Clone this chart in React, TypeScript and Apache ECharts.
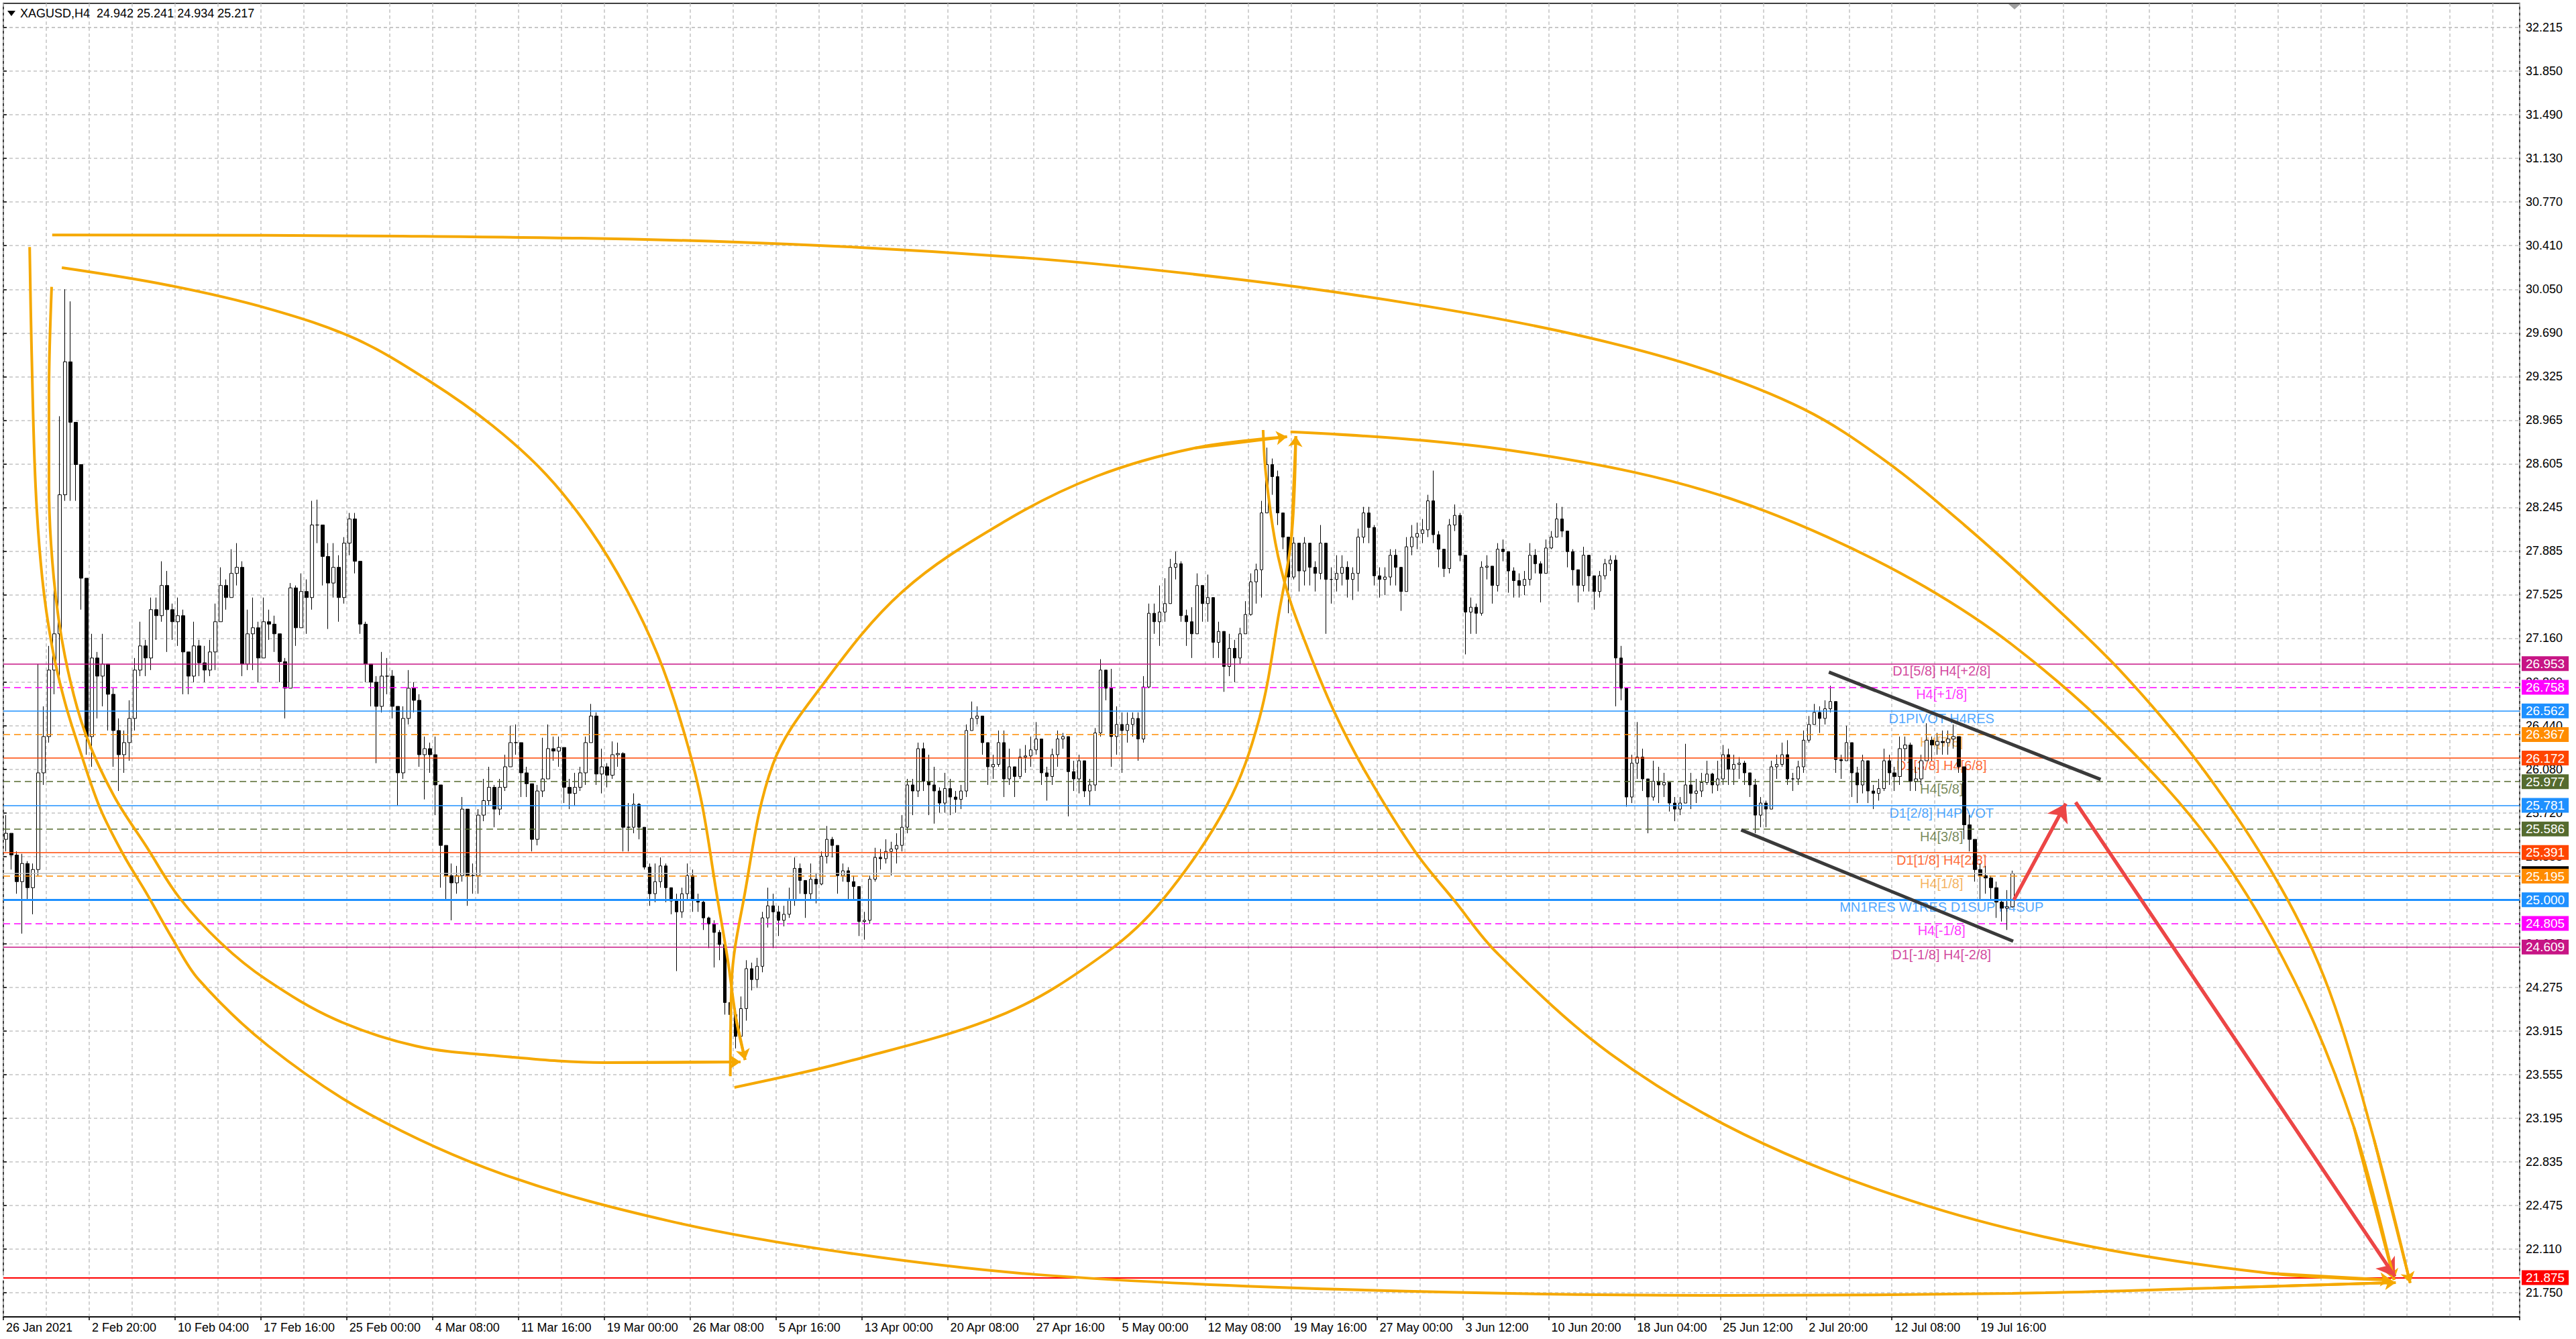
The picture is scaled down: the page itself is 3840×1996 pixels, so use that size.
import React, { useEffect, useRef } from "react";
import * as echarts from "echarts";

// XAGUSD H4, every candle here covers two H4 bars
const timeLabels = [
  "26 Jan 2021", "2 Feb 20:00", "10 Feb 04:00", "17 Feb 16:00", "25 Feb 00:00", "4 Mar 08:00",
  "11 Mar 16:00", "19 Mar 00:00", "26 Mar 08:00", "5 Apr 16:00", "13 Apr 00:00", "20 Apr 08:00",
  "27 Apr 16:00", "5 May 00:00", "12 May 08:00", "19 May 16:00", "27 May 00:00", "3 Jun 12:00",
  "10 Jun 20:00", "18 Jun 04:00", "25 Jun 12:00", "2 Jul 20:00", "12 Jul 08:00", "19 Jul 16:00",
];

const priceTicks = [
  "21.750", "22.110", "22.475", "22.835", "23.195", "23.555", "23.915", "24.275", "24.635", "24.995",
  "25.355", "25.720", "26.080", "26.440", "26.800", "27.160", "27.525", "27.885", "28.245", "28.605",
  "28.965", "29.325", "29.690", "30.050", "30.410", "30.770", "31.130", "31.490", "31.850", "32.215",
];

const firstOpen = 25.5;

const closes = [
  25.55, 25.37, 25.15, 25.30, 25.10, 25.25, 26.05, 26.35, 26.90, 27.20,
  28.35, 29.45, 28.95, 28.60, 27.66, 26.35, 27.00, 26.85, 26.95, 26.70,
  26.40, 26.20, 26.30, 26.50, 26.90, 27.10, 27.00, 27.40, 27.35, 27.60,
  27.40, 27.30, 27.35, 27.05, 26.85, 27.10, 26.96, 26.90, 27.05, 27.30,
  27.60, 27.50, 27.70, 27.75, 26.95, 27.20, 27.25, 27.00, 27.30, 27.28,
  27.20, 26.97, 26.75, 27.58, 27.25, 27.55, 27.50, 28.10, 28.10, 27.84,
  27.62, 27.75, 27.50, 27.95, 28.15, 27.80, 27.28, 26.95, 26.80, 26.60,
  26.85, 26.85, 26.60, 26.05, 26.50, 26.75, 26.65, 26.20, 26.25, 26.20,
  25.95, 25.45, 25.20, 25.14, 25.20, 25.75, 25.20, 25.20, 25.70, 25.82,
  25.93, 25.75, 25.93, 26.10, 26.30, 26.30, 26.05, 25.96, 25.50, 25.90,
  26.00, 26.25, 26.23, 26.26, 25.93, 25.88, 25.93, 26.05, 26.30, 26.52,
  26.04, 26.10, 26.03, 26.20, 26.21, 25.60, 25.60, 25.79, 25.60, 25.27,
  25.05, 25.15, 25.28, 25.10, 24.99, 24.90, 25.05, 25.20, 25.00, 24.98,
  24.85, 24.80, 24.73, 24.63, 24.15, 24.05, 23.87, 24.10, 24.43, 24.34,
  24.45, 24.85, 24.95, 24.90, 24.83, 24.88, 25.00, 25.26, 25.16, 25.05,
  25.17, 25.13, 25.36, 25.50, 25.45, 25.20, 25.24, 25.15, 25.11, 24.82,
  24.83, 25.17, 25.35, 25.34, 25.40, 25.42, 25.45, 25.60, 25.95, 25.90,
  26.25, 25.98, 25.95, 25.90, 25.80, 25.92, 25.85, 25.83, 25.90, 26.40,
  26.50, 26.52, 26.30, 26.10, 26.12, 26.30, 26.00, 26.10, 26.02, 26.18,
  26.19, 26.24, 26.33, 26.05, 26.02, 26.20, 26.33, 26.35, 26.06, 26.00,
  26.15, 25.90, 25.95, 26.38, 26.90, 26.75, 26.35, 26.45, 26.40, 26.45,
  26.50, 26.33, 26.76, 27.37, 27.30, 27.38, 27.45, 27.75, 27.78, 27.35,
  27.30, 27.20, 27.60, 27.45, 27.50, 27.13, 27.22, 26.93, 27.08, 27.00,
  27.20, 27.36, 27.63, 27.73, 28.20, 28.60, 28.50, 28.20, 28.00, 27.67,
  27.95, 27.72, 27.95, 27.75, 27.70, 27.95, 27.65, 27.65, 27.70, 27.75,
  27.65, 27.70, 28.00, 28.20, 28.08, 27.68, 27.65, 27.67, 27.85, 27.75,
  27.55, 27.92, 28.00, 28.03, 28.06, 28.30, 28.02, 27.90, 27.74, 28.10,
  28.18, 27.85, 27.38, 27.42, 27.37, 27.75, 27.76, 27.60, 27.90, 27.88,
  27.72, 27.64, 27.60, 27.65, 27.85, 27.78, 27.70, 27.91, 28.00, 28.15,
  28.05, 27.88, 27.73, 27.60, 27.85, 27.68, 27.55, 27.68, 27.78, 27.81,
  27.00, 26.75, 25.85, 26.13, 26.18, 26.00, 25.85, 25.98, 25.95, 25.97,
  25.80, 25.75, 25.80, 25.95, 25.88, 25.90, 25.97, 26.04, 25.95, 26.00,
  26.20, 26.08, 26.12, 26.13, 26.05, 25.95, 25.70, 25.80, 25.75, 26.10,
  26.12, 26.20, 26.00, 26.00, 26.10, 26.32, 26.45, 26.55, 26.50, 26.58,
  26.64, 26.16, 26.15, 26.30, 26.05, 25.95, 26.15, 25.90, 25.88, 25.92,
  26.15, 26.05, 26.02, 26.25, 26.28, 25.98, 26.00, 26.15, 26.32, 26.28,
  26.31, 26.30, 26.33, 26.35, 26.10, 25.62, 25.50, 25.25, 25.20, 25.18,
  25.10, 24.98, 24.93, 24.942, 25.217,
];

const highs = [
  25.70, 25.55, 25.40, 25.38, 25.32, 25.30, 26.95, 26.60, 27.10, 27.65,
  29.00, 30.05, 29.95, 28.95, 28.60, 27.60, 27.20, 27.05, 27.20, 26.95,
  26.75, 26.50, 26.40, 26.65, 27.00, 27.30, 27.15, 27.50, 27.50, 27.80,
  27.72, 27.45, 27.50, 27.40, 27.05, 27.30, 27.15, 27.10, 27.15, 27.45,
  27.75, 27.65, 27.90, 27.95, 27.80, 27.40, 27.50, 27.30, 27.50, 27.40,
  27.35, 27.20, 27.00, 27.62, 27.60, 27.70, 27.65, 28.30, 28.31, 28.10,
  27.95, 27.95, 27.85, 28.00, 28.20, 28.20, 27.80, 27.30, 26.95, 26.85,
  27.05, 27.00, 26.90, 26.60, 26.60, 26.90, 26.80, 26.70, 26.35, 26.30,
  26.35, 25.95, 25.45, 25.30, 25.28, 25.85, 25.75, 25.30, 25.75, 26.00,
  26.10, 25.95, 26.00, 26.20, 26.44, 26.45, 26.30, 26.10, 25.95, 25.95,
  26.34, 26.45, 26.35, 26.35, 26.26, 26.00, 26.05, 26.10, 26.35, 26.62,
  26.55, 26.25, 26.13, 26.31, 26.30, 26.22, 25.80, 25.88, 25.80, 25.60,
  25.30, 25.30, 25.35, 25.30, 25.10, 25.05, 25.10, 25.30, 25.25, 25.05,
  25.00, 24.86, 24.83, 24.75, 24.63, 24.20, 24.10, 24.20, 24.50, 24.48,
  24.52, 24.90, 25.10, 25.05, 24.95, 24.95, 25.10, 25.35, 25.30, 25.16,
  25.30, 25.22, 25.40, 25.61, 25.52, 25.45, 25.30, 25.27, 25.20, 25.11,
  24.90, 25.20, 25.43, 25.42, 25.50, 25.48, 25.55, 25.70, 26.00, 26.00,
  26.30, 26.30, 26.20, 26.10, 25.93, 26.05, 26.00, 25.90, 25.95, 26.45,
  26.64, 26.60, 26.52, 26.30, 26.20, 26.40, 26.40, 26.25, 26.10, 26.25,
  26.28, 26.35, 26.47, 26.33, 26.10, 26.25, 26.40, 26.38, 26.35, 26.15,
  26.20, 26.15, 26.00, 26.42, 26.99, 26.90, 26.91, 26.60, 26.55, 26.55,
  26.55, 26.55, 26.85, 27.45, 27.45, 27.60, 27.66, 27.82, 27.88, 27.80,
  27.40, 27.42, 27.70, 27.60, 27.69, 27.50, 27.30, 27.22, 27.20, 27.15,
  27.25, 27.47, 27.70, 27.78, 28.30, 28.74, 28.65, 28.55, 28.20, 28.00,
  28.00, 27.95, 28.00, 27.95, 27.80, 28.10, 27.95, 27.75, 27.85, 27.85,
  27.80, 27.75, 28.07, 28.25, 28.25, 28.10, 27.75, 27.75, 27.90, 27.90,
  27.75, 28.00, 28.10, 28.12, 28.15, 28.35, 28.55, 28.05, 27.90, 28.15,
  28.27, 28.20, 27.85, 27.50, 27.45, 27.80, 27.85, 27.76, 27.95, 27.98,
  27.88, 27.75, 27.70, 27.72, 27.95, 27.90, 27.80, 27.98, 28.05, 28.28,
  28.25, 28.05, 27.90, 27.73, 27.92, 27.85, 27.68, 27.72, 27.82, 27.85,
  27.85, 27.10, 26.75, 26.20, 26.47, 26.25, 26.00, 26.15, 26.10, 26.05,
  25.97, 25.85, 25.85, 26.29, 26.05, 26.00, 26.05, 26.15, 26.05, 26.15,
  26.28, 26.25, 26.20, 26.18, 26.15, 26.05, 26.00, 25.85, 25.82, 26.15,
  26.20, 26.30, 26.32, 26.05, 26.15, 26.40, 26.52, 26.62, 26.60, 26.65,
  26.77, 26.64, 26.20, 26.44, 26.30, 26.10, 26.20, 26.15, 25.95, 26.00,
  26.25, 26.20, 26.10, 26.35, 26.35, 26.30, 26.10, 26.20, 26.46, 26.35,
  26.38, 26.40, 26.40, 26.45, 26.35, 26.10, 25.70, 25.50, 25.30, 25.28,
  25.20, 25.15, 25.00, 25.08, 25.241,
];

const lows = [
  25.40, 25.25, 25.05, 24.72, 25.00, 24.88, 25.20, 25.95, 26.30, 26.70,
  26.80, 28.30, 28.30, 28.30, 27.40, 26.20, 26.10, 26.50, 26.60, 26.40,
  26.10, 25.90, 26.05, 26.15, 26.40, 26.85, 26.85, 26.90, 27.15, 27.30,
  27.05, 27.15, 27.10, 26.70, 26.70, 26.80, 26.85, 26.80, 26.85, 26.90,
  27.30, 27.40, 27.50, 27.60, 26.85, 26.90, 26.90, 26.80, 27.00, 27.15,
  27.05, 26.80, 26.50, 26.75, 27.10, 27.25, 27.20, 27.40, 27.95, 27.60,
  27.24, 27.50, 27.30, 27.45, 27.85, 27.70, 27.20, 26.80, 26.60, 26.13,
  26.55, 26.70, 26.50, 25.78, 26.00, 26.45, 26.55, 26.10, 25.83, 26.05,
  25.70, 25.10, 25.00, 24.83, 25.05, 25.15, 24.95, 25.05, 25.05, 25.65,
  25.78, 25.60, 25.70, 25.90, 26.15, 26.20, 25.85, 25.85, 25.40, 25.45,
  25.85, 26.05, 26.15, 26.10, 25.80, 25.75, 25.78, 25.90, 25.95, 26.30,
  25.95, 25.88, 25.93, 26.00, 26.10, 25.40, 25.40, 25.55, 25.50, 25.25,
  24.95, 24.98, 25.10, 24.98, 24.88, 24.41, 24.85, 25.00, 24.90, 24.90,
  24.75, 24.60, 24.44, 24.50, 24.05, 23.95, 23.77, 23.85, 24.00, 24.25,
  24.27, 24.40, 24.77, 24.60, 24.70, 24.78, 24.85, 24.95, 25.05, 24.85,
  25.00, 24.97, 25.12, 25.30, 25.35, 25.05, 25.15, 25.00, 25.00, 24.70,
  24.67, 24.80, 25.15, 25.25, 25.30, 25.20, 25.30, 25.40, 25.55, 25.70,
  25.85, 25.90, 25.70, 25.63, 25.72, 25.72, 25.70, 25.72, 25.75, 25.85,
  26.40, 26.45, 26.20, 25.95, 26.00, 26.10, 25.85, 25.95, 25.85, 26.00,
  26.05, 26.10, 26.20, 25.95, 25.82, 25.95, 26.10, 26.25, 25.69, 25.90,
  25.88, 25.85, 25.78, 25.90, 26.35, 26.65, 26.10, 26.20, 26.05, 26.30,
  26.35, 26.15, 26.30, 26.75, 27.20, 27.10, 27.30, 27.45, 27.65, 27.30,
  27.10, 27.00, 27.20, 27.30, 27.30, 27.00, 27.00, 26.72, 26.85, 26.80,
  26.95, 27.20, 27.35, 27.45, 27.50, 28.20, 28.35, 28.10, 27.90, 27.37,
  27.65, 27.55, 27.60, 27.60, 27.55, 27.65, 27.20, 27.45, 27.55, 27.60,
  27.50, 27.48, 27.55, 27.95, 27.95, 27.60, 27.50, 27.52, 27.60, 27.60,
  27.39, 27.55, 27.85, 27.90, 27.95, 28.00, 27.95, 27.75, 27.67, 27.70,
  28.05, 27.80, 27.03, 27.20, 27.20, 27.35, 27.65, 27.45, 27.55, 27.80,
  27.54, 27.50, 27.50, 27.52, 27.60, 27.70, 27.46, 27.70, 27.90, 28.00,
  28.00, 27.75, 27.60, 27.46, 27.55, 27.55, 27.40, 27.50, 27.65, 27.72,
  26.60, 26.65, 25.77, 25.80, 26.00, 25.90, 25.55, 25.82, 25.80, 25.85,
  25.73, 25.65, 25.70, 25.80, 25.75, 25.80, 25.85, 25.95, 25.88, 25.90,
  25.95, 25.95, 25.95, 26.00, 25.95, 25.85, 25.55, 25.60, 25.60, 25.75,
  26.00, 26.10, 25.95, 25.90, 25.95, 26.05, 26.30, 26.45, 26.38, 26.45,
  26.55, 26.05, 26.00, 26.15, 25.85, 25.80, 25.88, 25.80, 25.75, 25.82,
  25.90, 25.95, 25.90, 25.95, 26.15, 25.90, 25.90, 25.95, 26.15, 26.15,
  26.20, 26.20, 26.20, 26.25, 26.05, 25.50, 25.40, 25.15, 25.00, 25.05,
  25.00, 24.85, 24.82, 24.75, 24.934,
];

// Murrey / pivot levels
const levelPrices = [26.953, 26.758, 26.562, 26.367, 26.172, 25.977, 25.781, 25.586, 25.391, 25.195, 25.0, 24.805, 24.609];
const levelNames = [
  "D1[5/8] H4[+2/8]", "H4[+1/8]", "D1PIVOT H4RES", "H4[7/8]", "D1[3/8] H4[6/8]", "H4[5/8]",
  "D1[2/8] H4PIVOT", "H4[3/8]", "D1[1/8] H4[2/8]", "H4[1/8]", "MN1RES W1RES D1SUP H4SUP", "H4[-1/8]",
  "D1[-1/8] H4[-2/8]",
];
const targetPrice = 21.875;

// hand-drawn objects, in [bar, price]
const arcs: number[][][] = [
  [[8.6, 30.5], [73.9, 30.49], [136.4, 30.44], [190, 30.31], [230, 30.13], [262, 29.93], [290, 29.7], [315, 29.41],
    [335, 29.06], [350, 28.64], [365, 28.1], [380, 27.5], [395, 26.85], [410, 26.05], [424, 25.1], [433, 24.25],
    [441.4, 23.01], [448.1, 21.83]],
  [[239.4, 28.87], [261.4, 28.81], [280.1, 28.72], [303.1, 28.54], [321.3, 28.32], [339.5, 28.0], [357.6, 27.59],
    [373.9, 27.11], [392.6, 26.39], [411.4, 25.45], [426.4, 24.34], [437.6, 23.12], [445.1, 21.855]],
  [[234.3, 28.886], [234.8, 28.53], [236.6, 27.95], [239.0, 27.52], [242.6, 27.08], [247.5, 26.56], [253.6, 26.04],
    [262.6, 25.4], [270.0, 24.99], [277.9, 24.56], [298.9, 23.73], [323.9, 23.06], [355.1, 22.51], [386.4, 22.15],
    [421.9, 21.91], [444.5, 21.855]],
  [[4.4, 30.4], [4.75, 29.57], [5.5, 28.425], [6.75, 27.66], [8.6, 27.09], [11.0, 26.63], [14.0, 26.205], [17.6, 25.75],
    [21.9, 25.37], [26.1, 25.06], [31.0, 24.68], [35.9, 24.34], [48.9, 23.79], [67.6, 23.23], [92.6, 22.73],
    [123.9, 22.34], [155.1, 22.09], [192.0, 21.9], [248.9, 21.777], [321.4, 21.727], [373.9, 21.744], [411.4, 21.788],
    [445.4, 21.833]],
  [[8.5, 30.07], [8.0, 29.187], [8.0, 28.425], [8.9, 27.66], [11.0, 27.01], [14.6, 26.4], [20.1, 25.86], [26.1, 25.445],
    [32.25, 25.02], [40.1, 24.64], [48.5, 24.34], [61.4, 24.01], [76.4, 23.79], [91.4, 23.71], [111.4, 23.653],
    [136.9, 23.658]],
  [[10.4, 30.229], [30.1, 30.085], [48.9, 29.89], [65.1, 29.641], [78.9, 29.291], [90.75, 28.919], [100.75, 28.514],
    [108.9, 28.059], [115.75, 27.559], [121.4, 27.032], [125.75, 26.477], [129.5, 25.839], [132.4, 25.062],
    [134.5, 24.507], [136.1, 24.008], [137.75, 23.675]],
  [[135.0, 23.54], [135.25, 24.324], [137.4, 24.98], [142.9, 26.117], [152.0, 26.766], [167.1, 27.55],
    [186.4, 28.137], [203.25, 28.503], [221.5, 28.736], [238.75, 28.83]],
  [[135.75, 23.448], [158.0, 23.675], [186.4, 24.063], [205.1, 24.563], [215.4, 24.99], [227.5, 25.778],
    [233.6, 26.5], [237.25, 27.37], [239.6, 28.009], [240.4, 28.836]],
];
const channelLines = [
  [[339.75, 26.883], [390.4, 25.995]],
  [[323.4, 25.578], [374.1, 24.657]],
];
const redArrows = [
  [[374.25, 25.001], [383.9, 25.795]],
  [[385.75, 25.806], [445.25, 21.883]],
];

// styles
const FONT = "'Liberation Sans', Arial, sans-serif";
const SLOTS = 469;
const LABEL_BAR = 360.75;
const ARC_COLOR = "#F5A800";
const levelColors = ["#C71585", "#FF00FF", "#1E90FF", "#FF8C00", "#FF4500", "#556B2F", "#1E90FF", "#556B2F", "#FF4500", "#FF8C00", "#1E90FF", "#FF00FF", "#C71585"];
const levelTextColors = ["#C71585", "#FF00FF", "#1E90FF", "#F2A035", "#FF4500", "#556B2F", "#1E90FF", "#556B2F", "#FF4500", "#F2A035", "#1E90FF", "#FF00FF", "#C71585"];
const levelDashed = [false, true, false, true, false, true, false, true, false, true, false, true, false];
const levelWidths = [1.5, 1.5, 1.5, 1.5, 1.5, 1.5, 1.5, 1.5, 1.5, 1.5, 3, 1.5, 1.5];

const App: React.FC = () => {
  const chartRef = useRef<HTMLDivElement>(null);

  useEffect(() => {
    if (!chartRef.current) return;
    document.body.style.margin = "0";
    const chart = echarts.init(chartRef.current, undefined, { renderer: "svg" });

    const candles = closes.map((c, i) => {
      const o = i === 0 ? firstOpen : closes[i - 1];
      return [o, c, Math.min(lows[i], o, c), Math.max(highs[i], o, c)];
    });
    const last = candles[candles.length - 1];
    const lastClose = last[1];
    const header = `XAGUSD,H4  ${last[0].toFixed(3)} ${last[3].toFixed(3)} ${last[2].toFixed(3)} ${last[1].toFixed(3)}`;

    const tickMin = Number(priceTicks[0]);
    const tickMax = Number(priceTicks[priceTicks.length - 1]);
    const tickStep = (tickMax - tickMin) / (priceTicks.length - 1);

    const levelLines = levelPrices.map((p, i) => ({
      yAxis: p,
      lineStyle: { color: levelColors[i], type: levelDashed[i] ? [10, 6] : "solid", width: levelWidths[i] },
      label: { backgroundColor: levelColors[i] },
    }));

    const arcSeries = arcs.map((pts) => ({
      type: "line",
      xAxisIndex: 1,
      yAxisIndex: 0,
      data: pts,
      smooth: 0.35,
      symbol: "none",
      silent: true,
      z: 5,
      lineStyle: { color: ARC_COLOR, width: 4 },
      markLine: {
        silent: true,
        symbol: ["none", "arrow"],
        symbolSize: 16,
        label: { show: false },
        lineStyle: { color: ARC_COLOR, width: 4, type: "solid" },
        data: [[{ coord: pts[pts.length - 2] }, { coord: pts[pts.length - 1] }]],
      },
    }));

    const channelSeries = channelLines.map((pts) => ({
      type: "line",
      xAxisIndex: 1,
      yAxisIndex: 0,
      data: pts,
      symbol: "none",
      silent: true,
      z: 5,
      lineStyle: { color: "#3a3a3a", width: 5 },
    }));

    const arrowSeries = redArrows.map((pts) => ({
      type: "line",
      xAxisIndex: 1,
      yAxisIndex: 0,
      data: pts,
      symbol: "none",
      silent: true,
      z: 6,
      lineStyle: { color: "#EC4646", width: 5 },
      markLine: {
        silent: true,
        symbol: ["none", "arrow"],
        symbolSize: 26,
        label: { show: false },
        lineStyle: { color: "#EC4646", width: 5, type: "solid" },
        data: [[{ coord: pts[0] }, { coord: pts[1] }]],
      },
    }));

    const option: any = {
      animation: false,
      backgroundColor: "#ffffff",
      textStyle: { fontFamily: FONT },
      grid: [
        { left: 5, right: 84, top: 5, bottom: 33, show: true, borderColor: "#000", borderWidth: 1.5, backgroundColor: "transparent" },
        { left: 5, right: 84, top: 41.1, bottom: 69.1, show: false },
      ],
      xAxis: [
        {
          type: "category",
          gridIndex: 0,
          data: Array.from({ length: SLOTS }, (_, i) => String(i)),
          boundaryGap: true,
          axisLine: { show: true, lineStyle: { color: "#000", width: 1.5 } },
          axisTick: {
            show: true,
            length: 5,
            interval: (i: number) => i % 16 === 0 && i / 16 < timeLabels.length,
            lineStyle: { color: "#000", width: 1.5 },
          },
          axisLabel: {
            interval: (i: number) => i % 16 === 0 && i / 16 < timeLabels.length,
            formatter: (_v: string, i: number) => (i % 16 === 0 ? timeLabels[i / 16] ?? "" : ""),
            align: "left",
            color: "#000",
            fontSize: 18,
            fontFamily: FONT,
            margin: 7,
          },
          splitLine: {
            show: true,
            interval: (i: number) => i % 8 === 0,
            lineStyle: { color: "#c4c4c4", type: [5, 4], width: 1.5 },
          },
        },
        { type: "value", gridIndex: 0, min: -0.5, max: SLOTS - 0.5, show: false },
        { type: "value", gridIndex: 1, min: 0, max: 1, show: false },
      ],
      yAxis: [
        { type: "value", gridIndex: 0, min: 21.5497, max: 32.4153, show: false, splitLine: { show: false } },
        {
          type: "value",
          gridIndex: 1,
          position: "right",
          min: tickMin,
          max: tickMax,
          interval: tickStep,
          axisLine: { show: false },
          axisTick: { show: true, length: 5, lineStyle: { color: "#000", width: 1.5 } },
          axisLabel: {
            color: "#000",
            fontSize: 18,
            fontFamily: FONT,
            margin: 9,
            showMaxLabel: false,
            formatter: (v: number) => priceTicks[Math.round((v - tickMin) / tickStep)] ?? "",
          },
          splitLine: { show: true, lineStyle: { color: "#c4c4c4", type: [5, 4], width: 1.5 } },
        },
      ],
      graphic: [
        { type: "polygon", shape: { points: [[11, 16], [23, 16], [17, 24]] }, style: { fill: "#000" }, z: 10 },
        { type: "text", left: 30, top: 11, style: { text: header, fill: "#000", fontSize: 18, fontFamily: FONT }, z: 10 },
        { type: "polygon", shape: { points: [[2994, 6], [3012, 6], [3003, 14]] }, style: { fill: "#a0a0a0" }, z: 10 },
      ],
      series: [
        {
          type: "scatter",
          xAxisIndex: 1,
          yAxisIndex: 0,
          symbolSize: 0,
          silent: true,
          z: 2,
          data: levelPrices.map((p, i) => ({ value: [LABEL_BAR, p], label: { color: levelTextColors[i] } })),
          label: {
            show: true,
            position: "bottom",
            distance: 1,
            fontSize: 20,
            fontFamily: FONT,
            formatter: (p: any) => levelNames[p.dataIndex],
          },
          markLine: {
            silent: true,
            precision: 3,
            symbol: ["none", "none"],
            label: {
              show: true,
              position: "end",
              distance: 3,
              color: "#fff",
              fontSize: 19,
              fontFamily: FONT,
              padding: [2, 6, 1, 6],
              formatter: (p: any) => Number(p.value).toFixed(3),
            },
            data: [
              { yAxis: lastClose, lineStyle: { color: "#C0C0C0", type: "solid", width: 1.5 }, label: { backgroundColor: "#000" } },
              ...levelLines,
              { yAxis: targetPrice, lineStyle: { color: "#FF0000", type: "solid", width: 2 }, label: { backgroundColor: "#FF0000" } },
            ],
          },
        },
        {
          type: "scatter",
          xAxisIndex: 1,
          yAxisIndex: 0,
          symbol: "emptyRect",
          symbolSize: 6,
          silent: true,
          z: 3,
          itemStyle: { color: "#fff", borderColor: "#FF0000", borderWidth: 1.5 },
          data: [[-0.4, targetPrice], [SLOTS - 0.6, targetPrice]],
        },
        {
          type: "candlestick",
          xAxisIndex: 0,
          yAxisIndex: 0,
          data: candles,
          barWidth: 5,
          silent: true,
          z: 4,
          itemStyle: { color: "#ffffff", color0: "#000000", borderColor: "#000000", borderColor0: "#000000", borderWidth: 1 },
        },
        ...arcSeries,
        ...channelSeries,
        ...arrowSeries,
      ],
    };

    chart.setOption(option);
    return () => {
      chart.dispose();
    };
  }, []);

  return (
    <div
      ref={chartRef}
      style={{ position: "absolute", left: 0, top: 0, width: "3840px", height: "1996px", background: "#fff" }}
    />
  );
};

export default App;
